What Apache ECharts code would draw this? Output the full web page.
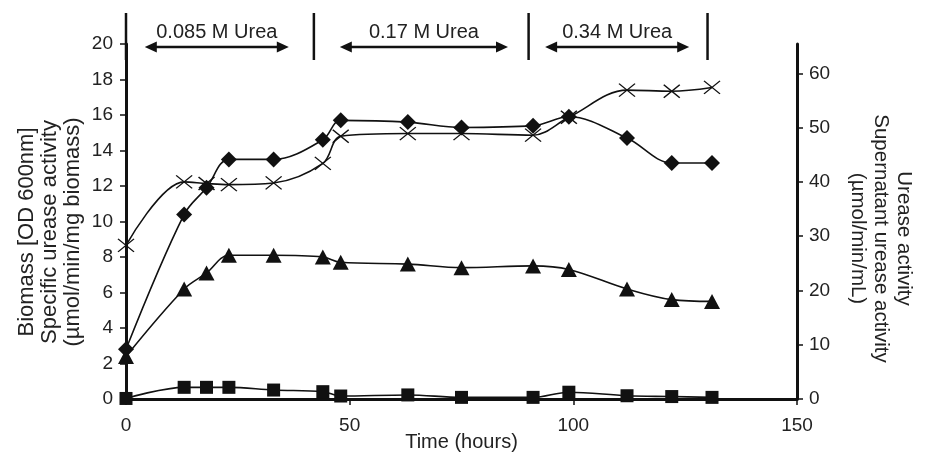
<!DOCTYPE html>
<html>
<head>
<meta charset="utf-8">
<script src="https://cdn.jsdelivr.net/npm/echarts@6/dist/echarts.min.js"></script>
<style>
  html, body { margin: 0; padding: 0; background: #fff; }
  #chart { width: 927px; height: 453px; }
</style>
</head>
<body>
<div id="chart"></div>
<script>
'use strict';

// sampling times (hours)
const hours = [0, 13, 18, 23, 33, 44, 48, 63, 75, 91, 99, 112, 122, 131];

// left axis series
const specificActivity = [2.8, 10.4, 11.9, 13.5, 13.5, 14.6, 15.7, 15.6, 15.3, 15.4, 15.9, 14.7, 13.3, 13.3];
const biomass = [2.4, 6.2, 7.1, 8.1, 8.1, 8.0, 7.7, 7.6, 7.4, 7.5, 7.3, 6.2, 5.6, 5.5];

// right axis series
const ureaseActivity = [28.3, 40.0, 39.7, 39.5, 39.8, 43.4, 48.4, 48.9, 48.9, 48.6, 51.9, 56.9, 56.7, 57.4];
const supernatantActivity = [0.1, 2.15, 2.15, 2.15, 1.65, 1.35, 0.55, 0.75, 0.3, 0.3, 1.25, 0.6, 0.45, 0.3];

// tick labels
const xTicks = [0, 50, 100, 150];
const leftTicks = [0, 2, 4, 6, 8, 10, 12, 14, 16, 18, 20];
const rightTicks = [0, 10, 20, 30, 40, 50, 60];

// urea feeding phases (hours)
const phaseBars = [0, 42, 90, 130];
const phaseArrows = [[4.2, 36.4], [47.8, 85.4], [93.7, 125.9]];
const phaseLabels = ['0.085 M Urea', '0.17 M Urea', '0.34 M Urea'];

const FONT = "'Liberation Sans', Arial, sans-serif";
const INK = '#111';

function pairs(ys) {
    return hours.map(function (t, i) { return [t, ys[i]]; });
}

function lineSeries(name, ys, yAxisIndex, symbol, size, hollow) {
    return {
        name: name,
        type: 'line',
        yAxisIndex: yAxisIndex,
        data: pairs(ys),
        smooth: 0.35,
        symbol: symbol,
        symbolSize: size,
        showAllSymbol: true,
        lineStyle: { color: INK, width: 1.6 },
        itemStyle: hollow
            ? { color: 'none', borderColor: INK, borderWidth: 1.3 }
            : { color: INK, borderWidth: 0 }
    };
}

const axisCommon = {
    nameMoveOverlap: false,
    axisLine: { show: true, onZero: false, lineStyle: { color: INK, width: 3 } },
    axisTick: { show: true, inside: false, length: 6, lineStyle: { color: INK, width: 1.5 } },
    splitLine: { show: false },
    axisLabel: { color: '#222', fontSize: 19, fontFamily: FONT },
    nameTextStyle: { color: '#222', fontSize: 20, fontFamily: FONT, lineHeight: 23 }
};

const option = {
    animation: false,
    backgroundColor: '#fff',
    grid: { left: 126, right: 130, top: 44, bottom: 54, outerBoundsMode: 'none', containLabel: false },
    xAxis: Object.assign({}, axisCommon, {
        type: 'value',
        min: xTicks[0],
        max: xTicks[xTicks.length - 1],
        interval: 50,
        name: 'Time (hours)',
        nameLocation: 'middle',
        nameGap: 32,
        axisLabel: Object.assign({}, axisCommon.axisLabel, { margin: 17 })
    }),
    yAxis: [
        Object.assign({}, axisCommon, {
            type: 'value',
            position: 'left',
            min: leftTicks[0],
            max: leftTicks[leftTicks.length - 1],
            interval: 2,
            name: 'Biomass [OD 600nm]\nSpecific urease activity\n(µmol/min/mg biomass)',
            nameLocation: 'middle',
            nameRotate: 90,
            nameGap: 42,
            nameTextStyle: Object.assign({}, axisCommon.nameTextStyle, { fontSize: 22, padding: [0, 21, 0, 0] }),
            axisLabel: Object.assign({}, axisCommon.axisLabel, { margin: 13 })
        }),
        Object.assign({}, axisCommon, {
            type: 'value',
            position: 'right',
            min: 0,
            max: 65.4,
            name: 'Urease activity\nSupernatant urease activity\n(µmol/min/mL)',
            nameLocation: 'middle',
            nameRotate: -90,
            nameGap: 49,
            nameTextStyle: Object.assign({}, axisCommon.nameTextStyle, { fontSize: 20.5, padding: [0, 0, 0, 34] }),
            axisTick: Object.assign({}, axisCommon.axisTick, { customValues: rightTicks }),
            axisLabel: Object.assign({}, axisCommon.axisLabel, { margin: 12, customValues: rightTicks })
        })
    ],
    series: [
        lineSeries('Urease activity', ureaseActivity, 1, 'path://M0,0L10,10M10,0L0,10', [16, 13], true),
        lineSeries('Specific urease activity', specificActivity, 0, 'diamond', 16, false),
        lineSeries('Biomass', biomass, 0, 'triangle', [16, 15], false),
        lineSeries('Supernatant urease activity', supernatantActivity, 1, 'rect', 13, false)
    ]
};

const chartDom = document.getElementById('chart');
const myChart = echarts.init(chartDom);
myChart.setOption(option);

// urea phase annotations above the plot
function drawPhases() {
    const gridTop = option.grid.top;
    const xp = function (t) { return myChart.convertToPixel({ xAxisIndex: 0 }, t); };
    const elements = [];
    phaseBars.forEach(function (t) {
        const x = xp(t);
        elements.push({
            type: 'line',
            shape: { x1: x, y1: gridTop - 31, x2: x, y2: gridTop + 16 },
            style: { stroke: INK, lineWidth: 2.5 },
            z: 100
        });
    });
    const ay = gridTop + 3;
    phaseArrows.forEach(function (seg, i) {
        const x1 = xp(seg[0]);
        const x2 = xp(seg[1]);
        elements.push({
            type: 'line',
            shape: { x1: x1 + 6, y1: ay, x2: x2 - 6, y2: ay },
            style: { stroke: INK, lineWidth: 2.5 },
            z: 100
        });
        elements.push({
            type: 'polygon',
            shape: { points: [[x1, ay], [x1 + 12, ay - 5.5], [x1 + 12, ay + 5.5]] },
            style: { fill: INK },
            z: 100
        });
        elements.push({
            type: 'polygon',
            shape: { points: [[x2, ay], [x2 - 12, ay - 5.5], [x2 - 12, ay + 5.5]] },
            style: { fill: INK },
            z: 100
        });
        elements.push({
            type: 'text',
            x: (x1 + x2) / 2,
            y: gridTop - 12,
            style: {
                text: phaseLabels[i],
                fill: '#222',
                fontSize: 20,
                fontFamily: FONT,
                align: 'center',
                verticalAlign: 'middle'
            },
            z: 100
        });
    });
    myChart.setOption({ graphic: elements });
}
drawPhases();

window.addEventListener('resize', function () {
    myChart.resize();
    drawPhases();
});
</script>
</body>
</html>
